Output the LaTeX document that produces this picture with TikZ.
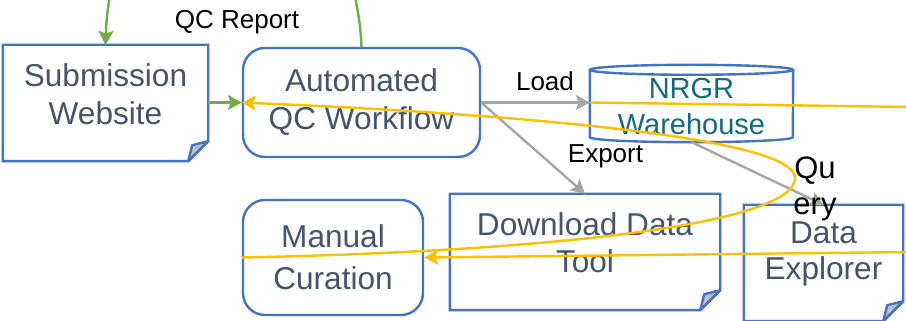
\documentclass[tikz,border=0pt]{standalone}
\usepackage{fontspec}
\setmainfont{Liberation Sans}
\usetikzlibrary{arrows.meta,calc}
\definecolor{boxblue}{HTML}{4472C4}
\definecolor{boxtext}{HTML}{44546A}
\definecolor{whtext}{RGB}{17,107,125}
\definecolor{foldgray}{HTML}{BFBFBF}
\definecolor{arrgray}{HTML}{A6A6A6}
\definecolor{arrgreen}{HTML}{70AD47}
\definecolor{arryellow}{HTML}{FFC000}
\newcommand{\mynotebox}[1]{%
  \draw[boxline] (#1.north west) -- (#1.north east) -- ([yshift=2pt]#1.south east)
     -- ([xshift=-20pt,yshift=-18pt]#1.south east) -- ([yshift=-18pt]#1.south west) -- cycle;
  \draw[boxline,fill=foldgray,line join=round] ([xshift=-20pt,yshift=-18pt]#1.south east)
     -- ([xshift=-16pt,yshift=-2pt]#1.south east) -- ([yshift=2pt]#1.south east) -- cycle;}
\tikzset{
  boxline/.style={draw=boxblue, line width=2.4pt},
  txtnode/.style={inner sep=0pt, align=center, text=boxtext},
  roundbox/.style={txtnode, boxline, rounded corners=22pt},
  conn/.style={line width=2.4pt, -{Stealth[length=14pt,width=15pt,inset=3pt]}},
  plainconn/.style={line width=2.4pt},
  greenln/.style={conn, draw=arrgreen, arrgreen},
  grayln/.style={conn, draw=arrgray, arrgray},
  yellowln/.style={conn, draw=arryellow, arryellow},
  yellowplain/.style={plainconn, draw=arryellow},
  lbl/.style={inner sep=0pt, text=black, font=\fontsize{26}{30}\selectfont},
}
\begin{document}
\begin{tikzpicture}[x=1pt,y=1pt]
\useasboundingbox (0,0) rectangle (906,321);
\fill[white] (0,0) rectangle (906,321);

% boxes
\node[txtnode, minimum width=205pt, minimum height=98pt, font=\fontsize{31.6}{38}\selectfont] (sub) at (105.5,227) {Submission\\Website};
\mynotebox{sub}
\node[roundbox, minimum width=237pt, minimum height=109pt, font=\fontsize{31.6}{38}\selectfont] (qc) at (361.5,218.5) {Automated\\QC Workflow};
\node[txtnode, text=whtext, minimum width=203pt, minimum height=77pt, font=\fontsize{29}{36}\selectfont] (wh) at (691.5,214.5) {NRGR\\Warehouse};
\draw[boxline] ([yshift=-2pt]wh.north) ellipse [x radius=101.5pt, y radius=5pt];
\draw[boxline] ([yshift=-2pt]wh.north west) -- ([yshift=8pt]wh.south west)
   arc[start angle=180, end angle=360, x radius=101.5pt, y radius=5pt] -- ([yshift=-2pt]wh.north east);
\node[roundbox, minimum width=180pt, minimum height=115pt, font=\fontsize{31.6}{42}\selectfont] (man) at (333,63.5) {Manual\\Curation};
\node[txtnode, minimum width=270pt, minimum height=98pt, font=\fontsize{31.6}{37}\selectfont] (dl) at (585,78) {Download Data\\Tool};
\mynotebox{dl}
\node[txtnode, minimum width=159pt, minimum height=98pt, font=\fontsize{31.6}{36}\selectfont] (de) at (823.5,67) {Data\\Explorer};
\mynotebox{de}

% connectors
\draw[greenln] (qc.north) .. controls +(-9,220) and +(7,220) .. (sub.north);
\draw[greenln] (sub.east |- qc.west) -- (qc.west);
\draw[grayln] (qc.east) -- (qc.east -| wh.west);
\draw[grayln] (qc.east) -- (dl.north);
\draw[grayln] ([yshift=3pt]wh.south) -- (de.north);

\coordinate (offrA) at (912,214);
\coordinate (offrB) at (912,69);
\coordinate (loopturn) at (795,143);
\draw[yellowplain] (qc.east -| wh.west) -- (offrA);
\draw[yellowln] (offrB) -- (man.east);
\draw[yellowln] (man.west) .. controls (560,70) and (795,98) .. (loopturn)
   .. controls (795,180) and (560,205) .. (qc.west);

% labels
\node[lbl, anchor=base] (lqc) at (237,292.5) {QC Report};
\node[lbl, anchor=base] (lload) at (545,230.3) {Load};
\node[lbl, anchor=base] (lexp) at (605.5,158) {Export};
\node[lbl, align=center, font=\fontsize{31}{36}\selectfont] (lquery) at (815,132) {Qu\\ery};
\end{tikzpicture}
\end{document}
